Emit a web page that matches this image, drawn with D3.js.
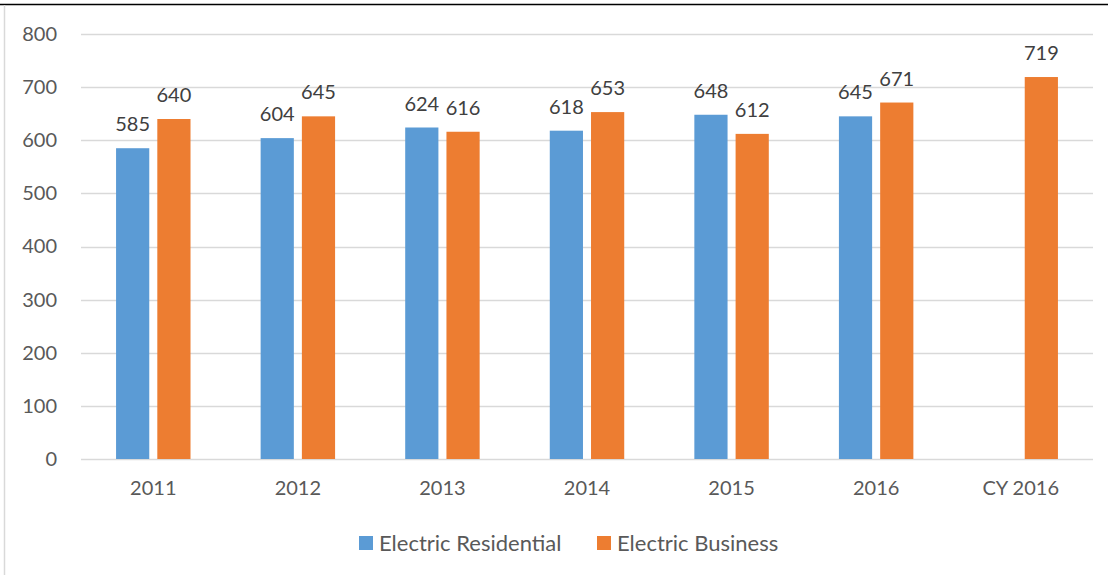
<!DOCTYPE html>
<html>
<head>
<meta charset="utf-8">
<script src="https://cdn.jsdelivr.net/npm/d3@7"></script>
<style>
  body { margin: 0; background: #fff; }
  svg { display: block; font-family: Lato, "Open Sans", sans-serif; }
</style>
</head>
<body>
<div id="chart"></div>
<script>
// chart data
const categories = ['2011', '2012', '2013', '2014', '2015', '2016', 'CY 2016'];
const seriesNames = ['Electric Residential', 'Electric Business'];
const residential = [585, 604, 624, 618, 648, 645, null];
const business = [640, 645, 616, 653, 612, 671, 719];
const yTicks = [0, 100, 200, 300, 400, 500, 600, 700, 800];
const colors = ['#5B9BD5', '#ED7D31'];

// setup / layout
const width = 1108;
const height = 575;
const margin = {t: 34, r: 15, b: 116, l: 81};

const svg = d3.select('#chart')
    .append('svg')
    .attr('width', width)
    .attr('height', height);

// frame lines
svg.append('line')
    .attr('x1', 0).attr('x2', width)
    .attr('y1', 4.5).attr('y2', 4.5)
    .attr('stroke', '#000').attr('stroke-width', 1.5);
svg.append('line')
    .attr('x1', 4.5).attr('x2', 4.5)
    .attr('y1', 5).attr('y2', height)
    .attr('stroke', '#d9d9d9').attr('stroke-width', 1.5);

const x0 = d3.scaleBand()
    .domain(categories)
    .range([margin.l, width - margin.r]);

const x1 = d3.scaleBand()
    .domain(seriesNames)
    .range([0, x0.bandwidth()])
    .paddingInner(0.195)
    .paddingOuter(0.85);

const y = d3.scaleLinear()
    .domain([0, 800])
    .range([height - margin.b, margin.t]);

// gridlines
svg.append('g')
    .selectAll('line')
    .data(yTicks)
    .join('line')
    .attr('x1', margin.l)
    .attr('x2', width - margin.r)
    .attr('y1', d => Math.round(y(d)) + 0.5)
    .attr('y2', d => Math.round(y(d)) + 0.5)
    .attr('stroke', '#d9d9d9')
    .attr('stroke-width', 1.5);

// Y axis labels
const yAxis = svg.append('g')
    .attr('transform', `translate(${margin.l},0)`)
    .call(d3.axisLeft(y).tickValues(yTicks).tickSize(0).tickPadding(24));
yAxis.select('.domain').remove();
yAxis.selectAll('text')
    .attr('font-family', 'Lato, "Open Sans", sans-serif')
    .attr('font-size', 20)
    .attr('fill', '#595959');

// X axis labels
const xAxis = svg.append('g')
    .attr('transform', `translate(0,${y(0)})`)
    .call(d3.axisBottom(x0).tickSize(0).tickPadding(22));
xAxis.select('.domain').remove();
xAxis.selectAll('text')
    .attr('font-family', 'Lato, "Open Sans", sans-serif')
    .attr('font-size', 20)
    .attr('fill', '#595959');

// bars
const rows = categories.map((c, i) => ({
    cat: c,
    values: [
        {key: seriesNames[0], value: residential[i], color: colors[0]},
        {key: seriesNames[1], value: business[i], color: colors[1]}
    ].filter(v => v.value != null)
}));

const groups = svg.append('g')
    .selectAll('g')
    .data(rows)
    .join('g')
    .attr('transform', d => `translate(${x0(d.cat)},0)`);

groups.selectAll('rect')
    .data(d => d.values)
    .join('rect')
    .attr('x', d => x1(d.key))
    .attr('y', d => y(d.value))
    .attr('width', x1.bandwidth())
    .attr('height', d => y(0) - y(d.value))
    .attr('fill', d => d.color);

groups.selectAll('text')
    .data(d => d.values)
    .join('text')
    .attr('x', d => x1(d.key) + x1.bandwidth() / 2)
    .attr('y', d => y(d.value) - 17)
    .attr('text-anchor', 'middle')
    .attr('font-size', 20)
    .attr('fill', '#404040')
    .text(d => d.value);

// legend
const legendItems = [
    {name: seriesNames[0], color: colors[0], x: 359},
    {name: seriesNames[1], color: colors[1], x: 597}
];
const legend = svg.append('g')
    .selectAll('g')
    .data(legendItems)
    .join('g')
    .attr('transform', d => `translate(${d.x},536)`);
legend.append('rect')
    .attr('width', 14)
    .attr('height', 14)
    .attr('fill', d => d.color);
legend.append('text')
    .attr('x', 20)
    .attr('y', 14.5)
    .attr('font-size', 22)
    .attr('fill', '#595959')
    .text(d => d.name);
</script>
</body>
</html>
